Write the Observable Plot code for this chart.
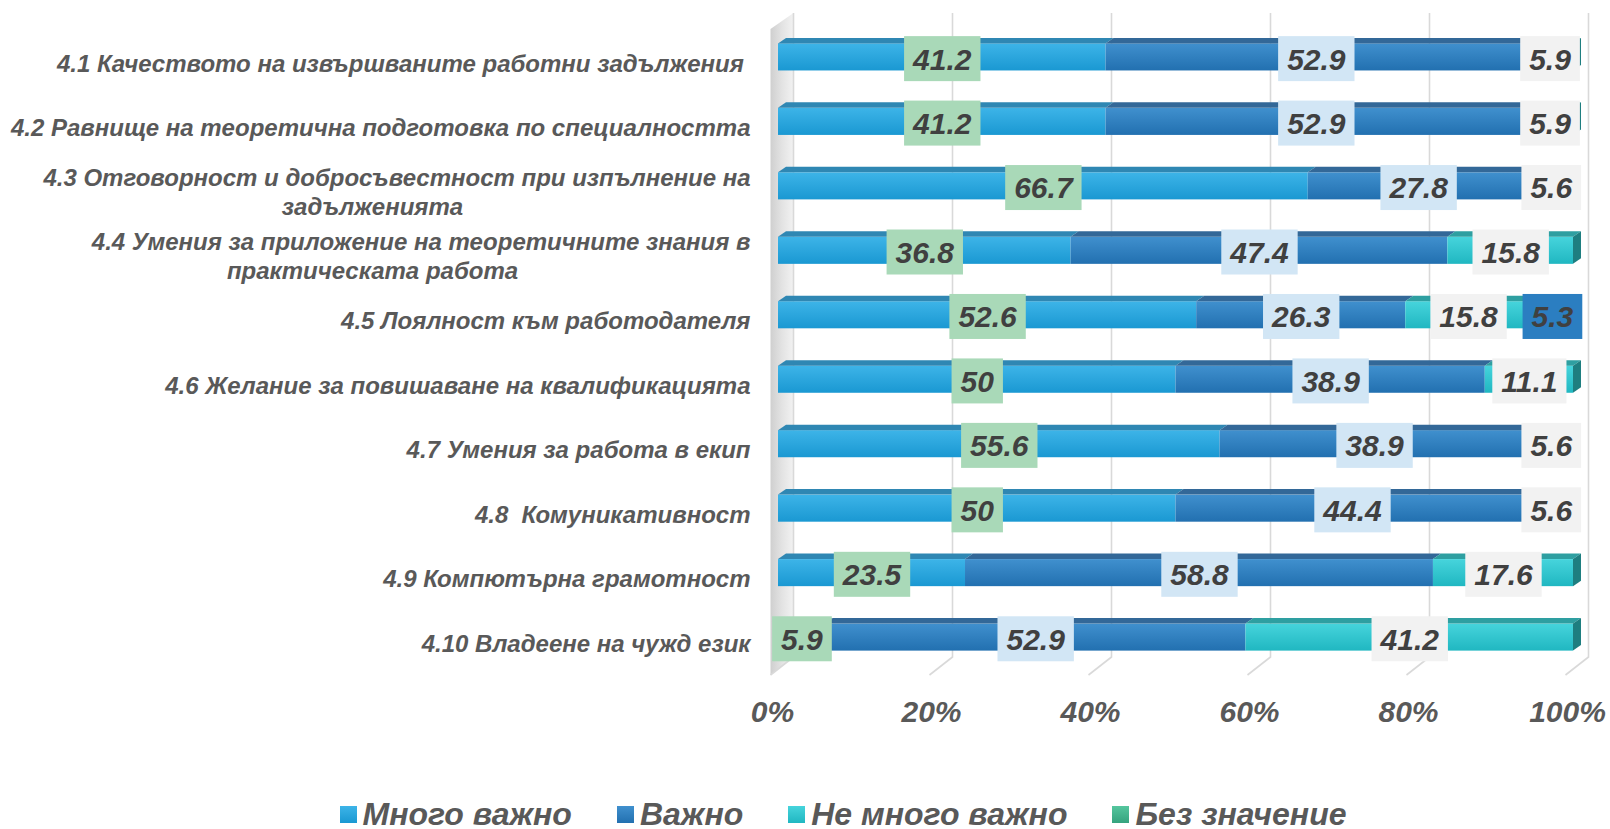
<!DOCTYPE html>
<html><head><meta charset="utf-8">
<script src="https://cdn.jsdelivr.net/npm/d3@7"></script>
<script src="https://cdn.jsdelivr.net/npm/@observablehq/plot@0.6"></script>
<style>
html,body{margin:0;padding:0;background:#fff;width:1610px;height:829px;overflow:hidden;}
svg text{white-space:pre;}
#legend{display:flex;justify-content:center;align-items:center;padding-left:76px;gap:45px;font:italic bold 32px "Liberation Sans",Arial,sans-serif;color:#595959;height:40px;padding-top:24px;}
.item{display:flex;align-items:center;gap:6px}
.sw{width:17px;height:17px;}
</style></head><body><div id="chart"></div><div id="legend"></div>
<script>
const categories = [
  "4.1 Качеството на извършваните работни задължения ",
  "4.2 Равнище на теоретична подготовка по специалността",
  "4.3 Отговорност и добросъвестност при изпълнение на\nзадълженията",
  "4.4 Умения за приложение на теоретичните знания в\nпрактическата работа",
  "4.5 Лоялност към работодателя",
  "4.6 Желание за повишаване на квалификацията",
  "4.7 Умения за работа в екип",
  "4.8  Комуникативност",
  "4.9 Компютърна грамотност",
  "4.10 Владеене на чужд език"
];
const seriesNames = ["Много важно", "Важно", "Не много важно", "Без значение"];
const veryImportant    = [41.2, 41.2, 66.7, 36.8, 52.6, 50,   55.6, 50,   23.5, 5.9];
const important        = [52.9, 52.9, 27.8, 47.4, 26.3, 38.9, 38.9, 44.4, 58.8, 52.9];
const notVeryImportant = [5.9,  5.9,  5.6,  15.8, 15.8, 11.1, 5.6,  5.6,  17.6, 41.2];
const noImportance     = [0,    0,    0,    0,    5.3,  0,    0,    0,    0,    0];
const seriesValues = [veryImportant, important, notVeryImportant, noImportance];
const tickValues = [0, 0.2, 0.4, 0.6, 0.8, 1];

// styles
const frontTop    = ["#3DB4E8", "#4090CE", "#46D4DC", "#55C69E"];
const frontBottom = ["#1A98D2", "#2270B0", "#20B7C1", "#35A37E"];
const topColors   = ["#2F87B3", "#336898", "#2E9FA1", "#3A9275"];
const sideColor   = "#1E7E80";
const boxColors   = ["#A9D9B8", "#D2E6F5", "#F2F2F2", "#2B7EC1"];
const DX = 8, DY = 5.5;

const data = [];
categories.forEach((c, i) => {
  let lastJ = -1;
  seriesValues.forEach((vals, j) => { if (vals[i] > 0) lastJ = j; });
  seriesNames.forEach((s, j) => {
    const v = seriesValues[j][i];
    if (v > 0) data.push({cat: c, series: s, si: j, value: v, last: j === lastJ});
  });
});
const rows = categories.map(c => {
  const parts = c.split("\n");
  return {cat: c, line1: parts[0], line2: parts[1] || null};
});

const NS = "http://www.w3.org/2000/svg";
function el(name, attrs) {
  const e = document.createElementNS(NS, name);
  for (const k in attrs) e.setAttribute(k, attrs[k]);
  return e;
}
function pts(a) { return a.map(p => p.join(",")).join(" "); }

function topFaces(index, scales, values, dimensions, context, next) {
  const g = next(index, scales, values, dimensions, context);
  const rects = Array.from(g.querySelectorAll("rect"));
  rects.forEach((r, k) => {
    const d = data[index[k]];
    const x = +r.getAttribute("x"), y = +r.getAttribute("y");
    const w = +r.getAttribute("width"), h = +r.getAttribute("height");
    const top = el("polygon", {points: pts([[x, y], [x + w, y], [x + w + DX, y - DY], [x + DX, y - DY]]), fill: topColors[d.si]});
    r.replaceWith(top);
    if (d.last) {
      g.appendChild(el("polygon", {points: pts([[x + w, y], [x + w + DX, y - DY], [x + w + DX, y + h - DY], [x + w, y + h]]), fill: sideColor}));
    }
  });
  return g;
}

function gridWall(index, scales, values, dimensions, context, next) {
  const g = next(index, scales, values, dimensions, context);
  const lines = Array.from(g.querySelectorAll("line"));
  lines.forEach((l, k) => {
    const x = +l.getAttribute("x1"), y1 = +l.getAttribute("y1"), y2 = +l.getAttribute("y2");
    const bx = x + 15;
    const p = el("path", {d: `M${bx},${y1}V${y2}L${bx - 23},${y2 + 18}`, fill: "none"});
    if (k === 0) {
      g.insertBefore(el("polygon", {points: pts([[bx - 23, y1 + 16], [bx, y1], [bx, y2], [bx - 23, y2 + 18]]), fill: "url(#wallGrad)", stroke: "none"}), g.firstChild);
    }
    l.replaceWith(p);
  });
  return g;
}

const measureCtx = document.createElement("canvas").getContext("2d");
measureCtx.font = "italic bold 30px 'Liberation Sans'";
function labelBoxes(index, scales, values, dimensions, context, next) {
  const g = next(index, scales, values, dimensions, context);
  const texts = Array.from(g.querySelectorAll("text"));
  texts.forEach((t, k) => {
    const d = data[index[k]];
    let x, y;
    const tr = t.getAttribute("transform");
    const m = tr && tr.match(/translate\(([-\d.e]+)[ ,]+([-\d.e]+)\)/);
    if (m) { x = +m[1]; y = +m[2]; } else { x = +t.getAttribute("x"); y = +t.getAttribute("y"); }
    const w = measureCtx.measureText(t.textContent).width + 18;
    g.insertBefore(el("rect", {x: x - w / 2, y: y - 23.8, width: w, height: 45, fill: boxColors[d.si], stroke: "none"}), t);
  });
  return g;
}

const stackOpts = {x: "value", y: "cat", z: "series", offset: "normalize"};
const font = "'Liberation Sans', Arial, sans-serif";

const chart = Plot.plot({
  width: 1610, height: 770,
  marginLeft: 778, marginRight: 37, marginTop: 6, marginBottom: 82,
  x: {domain: [0, 1], axis: null},
  y: {domain: categories, padding: 0.58, round: false, axis: null},
  color: {domain: seriesNames, range: seriesNames.map((_, i) => `url(#front${i})`)},
  style: {fontFamily: font, background: "transparent", overflow: "visible"},
  marks: [
    Plot.ruleX(tickValues, {stroke: "#D9D9D9", strokeWidth: 1.6, insetTop: 7, insetBottom: 31, render: gridWall}),
    Plot.barX(data, Plot.stackX({...stackOpts, fill: "series"})),
    Plot.barX(data, Plot.stackX({...stackOpts, fill: "series", render: topFaces})),
    Plot.text(rows.filter(r => !r.line2), {x: 0, y: "cat", text: "line1", textAnchor: "end", dx: -28, dy: 6.5, fontSize: 24, fontWeight: "bold", fontStyle: "italic", fill: "#595959"}),
    Plot.text(rows.filter(r => r.line2), {x: 0, y: "cat", text: "line1", textAnchor: "end", dx: -28, dy: -8, fontSize: 24, fontWeight: "bold", fontStyle: "italic", fill: "#595959"}),
    Plot.text(rows.filter(r => r.line2), {x: 0, y: "cat", text: "line2", textAnchor: "middle", dx: -406, dy: 21, fontSize: 24, fontWeight: "bold", fontStyle: "italic", fill: "#595959"}),
    Plot.axisX(tickValues, {tickFormat: d3.format(".0%"), tickSize: 0, tickPadding: 12, fontSize: 30, fontWeight: "bold", fontStyle: "italic", color: "#595959", dx: -6, label: null}),
    Plot.text(data, Plot.stackX({...stackOpts, text: d => String(d.value), fontSize: 30, fontWeight: "bold", fontStyle: "italic", fill: "#404040", dy: 2.5, render: labelBoxes}))
  ]
});

const defs = el("defs", {});
let dh = `<linearGradient id="wallGrad" x1="0" y1="0" x2="1" y2="0"><stop offset="0" stop-color="#CFCFCF"/><stop offset="0.5" stop-color="#E3E3E3"/><stop offset="1" stop-color="#F2F2F2"/></linearGradient>`;
seriesNames.forEach((_, i) => {
  dh += `<linearGradient id="front${i}" x1="0" y1="0" x2="0" y2="1"><stop offset="0" stop-color="${frontTop[i]}"/><stop offset="1" stop-color="${frontBottom[i]}"/></linearGradient>`;
});
defs.innerHTML = dh;
chart.insertBefore(defs, chart.firstChild);
document.getElementById("chart").appendChild(chart);

const legend = document.getElementById("legend");
seriesNames.forEach((s, i) => {
  const item = document.createElement("div");
  item.className = "item";
  const sw = document.createElement("div");
  sw.className = "sw";
  sw.style.background = `linear-gradient(${frontTop[i]}, ${frontBottom[i]})`;
  const tx = document.createElement("span");
  tx.textContent = s;
  item.append(sw, tx);
  legend.appendChild(item);
});
</script></body></html>
